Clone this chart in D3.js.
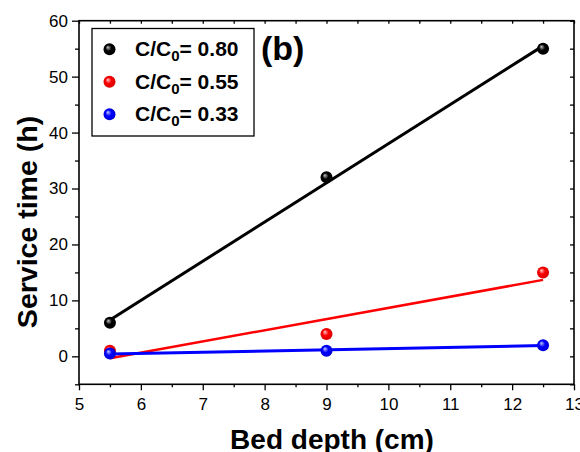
<!DOCTYPE html>
<html>
<head>
<meta charset="utf-8">
<script src="https://cdn.jsdelivr.net/npm/d3@7"></script>
<style>
  body { margin: 0; background: #fff; }
  svg { display: block; font-family: "Liberation Sans", Arial, sans-serif; }
</style>
</head>
<body>
<svg id="chart" width="580" height="452"></svg>
<script>
// data
const depth = [5.5, 9, 12.5];
const time080 = [6, 32, 55];
const time055 = [1, 4, 15];
const time033 = [0.5, 1, 2];
const ratioLabels = ['0.80', '0.55', '0.33'];
const seriesColors = ['#000000', '#ff0000', '#0000ff'];
const highlightColors = ['#c8c8c8', '#ffd0d0', '#c8d0ff'];
const xTicks = [5, 6, 7, 8, 9, 10, 11, 12, 13];
const yTicks = [0, 10, 20, 30, 40, 50, 60];

const svg = d3.select('#chart');

const plotLeft = 79, plotRight = 574, plotTop = 20.7, plotBottom = 384.3;

const x = d3.scaleLinear().domain([5, 13]).range([plotLeft, plotRight]);
const y = d3.scaleLinear().domain([-5, 60]).range([plotBottom, plotTop]);

// sphere gradients
const defs = svg.append('defs');
seriesColors.forEach((c, i) => {
  const g = defs.append('radialGradient')
    .attr('id', 'ball' + i)
    .attr('cx', '50%').attr('cy', '50%').attr('r', '55%')
    .attr('fx', '35%').attr('fy', '32%');
  g.append('stop').attr('offset', '0%').attr('stop-color', highlightColors[i]);
  g.append('stop').attr('offset', '45%').attr('stop-color', c);
  g.append('stop').attr('offset', '100%').attr('stop-color', d3.color(c).darker(0.6));
});

// minor ticks (halves) on the bottom and left
svg.append('g')
  .attr('transform', `translate(0,${plotBottom})`)
  .call(d3.axisBottom(x).tickValues(d3.range(5.5, 13, 1)).tickSize(3).tickFormat(''))
  .call(g => g.select('.domain').remove());
svg.append('g')
  .attr('transform', `translate(${plotLeft},0)`)
  .call(d3.axisLeft(y).tickValues([-5, 5, 15, 25, 35, 45, 55]).tickSize(4).tickFormat(''))
  .call(g => g.select('.domain').remove());

// major ticks
svg.append('g')
  .attr('transform', `translate(0,${plotBottom})`)
  .call(d3.axisBottom(x).tickValues(xTicks).tickSize(6).tickPadding(7.5).tickFormat(d3.format('d')))
  .call(g => g.select('.domain').remove())
  .call(g => g.selectAll('text').attr('font-size', 17).attr('fill', '#000'));
svg.append('g')
  .attr('transform', `translate(${plotLeft},0)`)
  .call(d3.axisLeft(y).tickValues(yTicks).tickSize(7).tickPadding(4))
  .call(g => g.select('.domain').remove())
  .call(g => g.selectAll('text').attr('font-size', 17).attr('fill', '#000'));

// mirrored ticks top and right (inward)
svg.append('g')
  .attr('transform', `translate(0,${plotTop})`)
  .call(d3.axisTop(x).tickValues(d3.range(5, 13.01, 0.5)).tickSize(-3).tickFormat(''))
  .call(g => g.select('.domain').remove());
svg.append('g')
  .attr('transform', `translate(${plotRight},0)`)
  .call(d3.axisRight(y).tickValues(d3.range(-5, 60.01, 5)).tickSize(-4).tickFormat(''))
  .call(g => g.select('.domain').remove());

svg.selectAll('.tick line').attr('stroke', '#000').attr('stroke-width', 1.3);

// frame
svg.append('rect')
  .attr('x', plotLeft).attr('y', plotTop)
  .attr('width', plotRight - plotLeft).attr('height', plotBottom - plotTop)
  .attr('fill', 'none').attr('stroke', '#000').attr('stroke-width', 1.6);

// series with least-squares fit lines
const series = [time080, time055, time033];
const lineWidths = [3, 2.5, 3];
series.forEach((vals, i) => {
  const mx = d3.mean(depth), my = d3.mean(vals);
  const slope = d3.sum(depth, (d, k) => (d - mx) * (vals[k] - my)) / d3.sum(depth, d => (d - mx) ** 2);
  const icpt = my - slope * mx;
  const x0 = d3.min(depth), x1 = d3.max(depth);
  svg.append('line')
    .attr('x1', x(x0)).attr('y1', y(icpt + slope * x0))
    .attr('x2', x(x1)).attr('y2', y(icpt + slope * x1))
    .attr('stroke', seriesColors[i]).attr('stroke-width', lineWidths[i]);
  svg.append('g').selectAll('circle')
    .data(depth.map((d, k) => [d, vals[k]]))
    .join('circle')
    .attr('cx', d => x(d[0])).attr('cy', d => y(d[1]))
    .attr('r', 6)
    .attr('fill', `url(#ball${i})`);
});

// legend
const legend = svg.append('g');
legend.append('rect')
  .attr('x', 92).attr('y', 28.5).attr('width', 162).attr('height', 107.5)
  .attr('fill', '#fff').attr('stroke', '#000').attr('stroke-width', 1.3);
ratioLabels.forEach((lab, i) => {
  const cy = 49.3 + i * 32.5;
  legend.append('circle')
    .attr('cx', 109.5).attr('cy', cy).attr('r', 6)
    .attr('fill', `url(#ball${i})`);
  const t = legend.append('text')
    .attr('x', 135).attr('y', cy + 7)
    .attr('font-size', 21).attr('font-weight', 'bold');
  t.append('tspan').text('C/C');
  t.append('tspan').attr('font-size', 15).attr('dy', 5).text('0');
  t.append('tspan').attr('dy', -5).text('= ' + lab);
});

// panel label
svg.append('text')
  .attr('x', 261).attr('y', 60)
  .attr('font-size', 34).attr('font-weight', 'bold')
  .text('(b)');

// axis titles
svg.append('text')
  .attr('x', 332).attr('y', 449)
  .attr('text-anchor', 'middle')
  .attr('font-size', 28).attr('font-weight', 'bold')
  .text('Bed depth (cm)');
svg.append('text')
  .attr('transform', 'translate(37,222) rotate(-90)')
  .attr('text-anchor', 'middle')
  .attr('font-size', 28.5).attr('font-weight', 'bold')
  .text('Service time (h)');
</script>
</body>
</html>
